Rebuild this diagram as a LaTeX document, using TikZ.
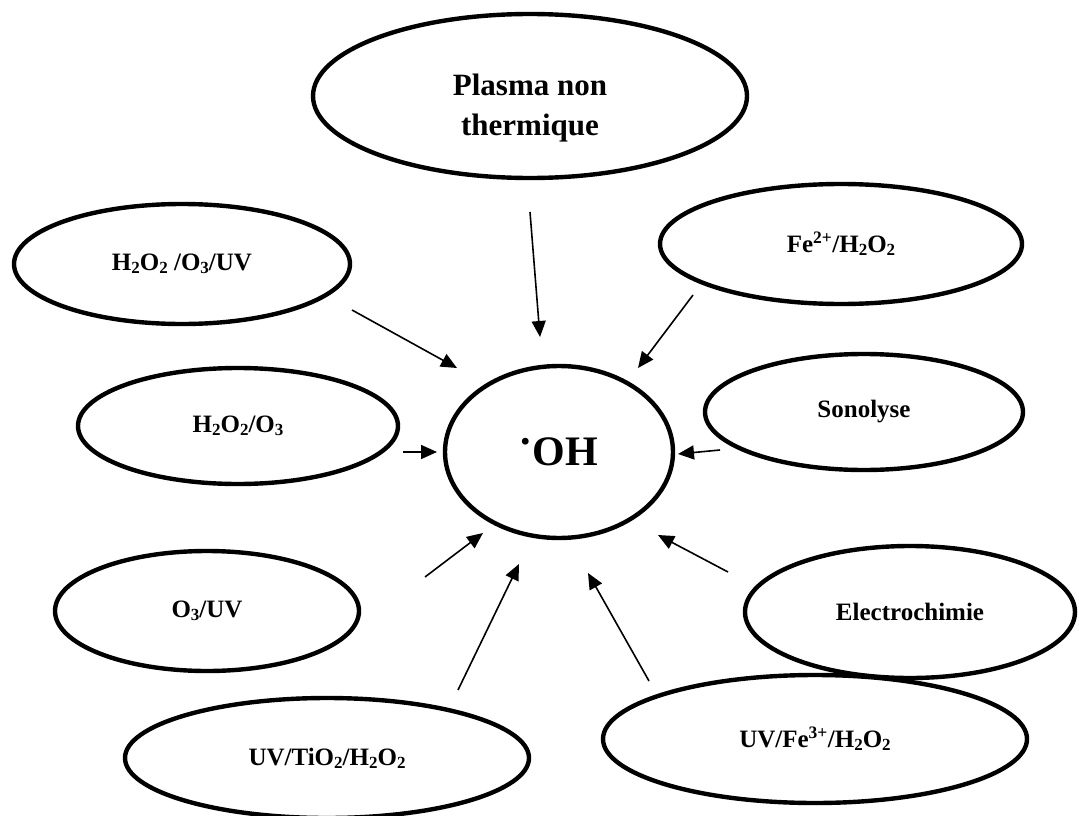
\documentclass[tikz,border=0pt]{standalone}
\usepackage{fontspec}
\setmainfont{Liberation Serif}
\usetikzlibrary{shapes.geometric,arrows.meta}
\newcommand{\dn}[1]{\raisebox{-0.12em}{\fontsize{17}{20}\selectfont #1}}
\newcommand{\up}[1]{\textsuperscript{#1}}
\begin{document}
\begin{tikzpicture}[x=1pt,y=-1pt,
  oval/.style={ellipse, draw, line width=4.4pt, inner sep=0pt, outer sep=0pt,
    font=\fontsize{25}{29}\selectfont\bfseries},
  lbl/.style={inner sep=0pt, font=\fontsize{25}{29}\selectfont\bfseries},
  arr/.style={-{Triangle[length=16pt,width=14pt]}, line width=1.6pt}]
\useasboundingbox (0,0) rectangle (1079,816);
% ellipses
\node[oval, minimum width=434, minimum height=164] (plasma) at (530,96) {};
\node[lbl, align=center, font=\fontsize{31}{40}\selectfont\bfseries] (plasmaT) at (530,108) {Plasma non\\thermique};
\node[oval, minimum width=336, minimum height=120] (hou) at (182,264) {H\dn{2}O\dn{2} /O\dn{3}/UV};
\node[oval, minimum width=362, minimum height=120] (fe) at (841,244) {Fe\up{2+}/H\dn{2}O\dn{2}};
\node[oval, minimum width=320, minimum height=116] (ho) at (238,426) {H\dn{2}O\dn{2}/O\dn{3}};
\node[oval, minimum width=228, minimum height=172, font=\fontsize{42}{50}\selectfont\bfseries] (oh) at (559,452) {\raisebox{0.5em}{.}\kern0.04em OH};
\node[oval, minimum width=318, minimum height=116] (sono) at (864,412) {Sonolyse};
\node[oval, minimum width=304, minimum height=120] (ouv) at (207,611) {O\dn{3}/UV};
\node[oval, minimum width=330, minimum height=132] (elec) at (910,612) {Electrochimie};
\node[oval, minimum width=404, minimum height=120] (tio) at (327,758) {UV/TiO\dn{2}/H\dn{2}O\dn{2}};
\node[oval, minimum width=424, minimum height=128] (fe3) at (815,739) {UV/Fe\up{3+}/H\dn{2}O\dn{2}};
% arrow ends
\coordinate (p1) at (530,212); \coordinate (q1) at (540,337);
\coordinate (p2) at (352,310); \coordinate (q2) at (457,368);
\coordinate (p3) at (693,295); \coordinate (q3) at (638,368);
\coordinate (p4) at (403,452); \coordinate (q4) at (437,452);
\coordinate (p5) at (720,450); \coordinate (q5) at (678,454);
\coordinate (p6) at (425,577); \coordinate (q6) at (483,533);
\coordinate (p7) at (458,690); \coordinate (q7) at (519,564);
\coordinate (p8) at (649,681); \coordinate (q8) at (588,573);
\coordinate (p9) at (728,572); \coordinate (q9) at (658,535);
\foreach \i in {1,...,9} \draw[arr] (p\i) -- (q\i);
\end{tikzpicture}
\end{document}
